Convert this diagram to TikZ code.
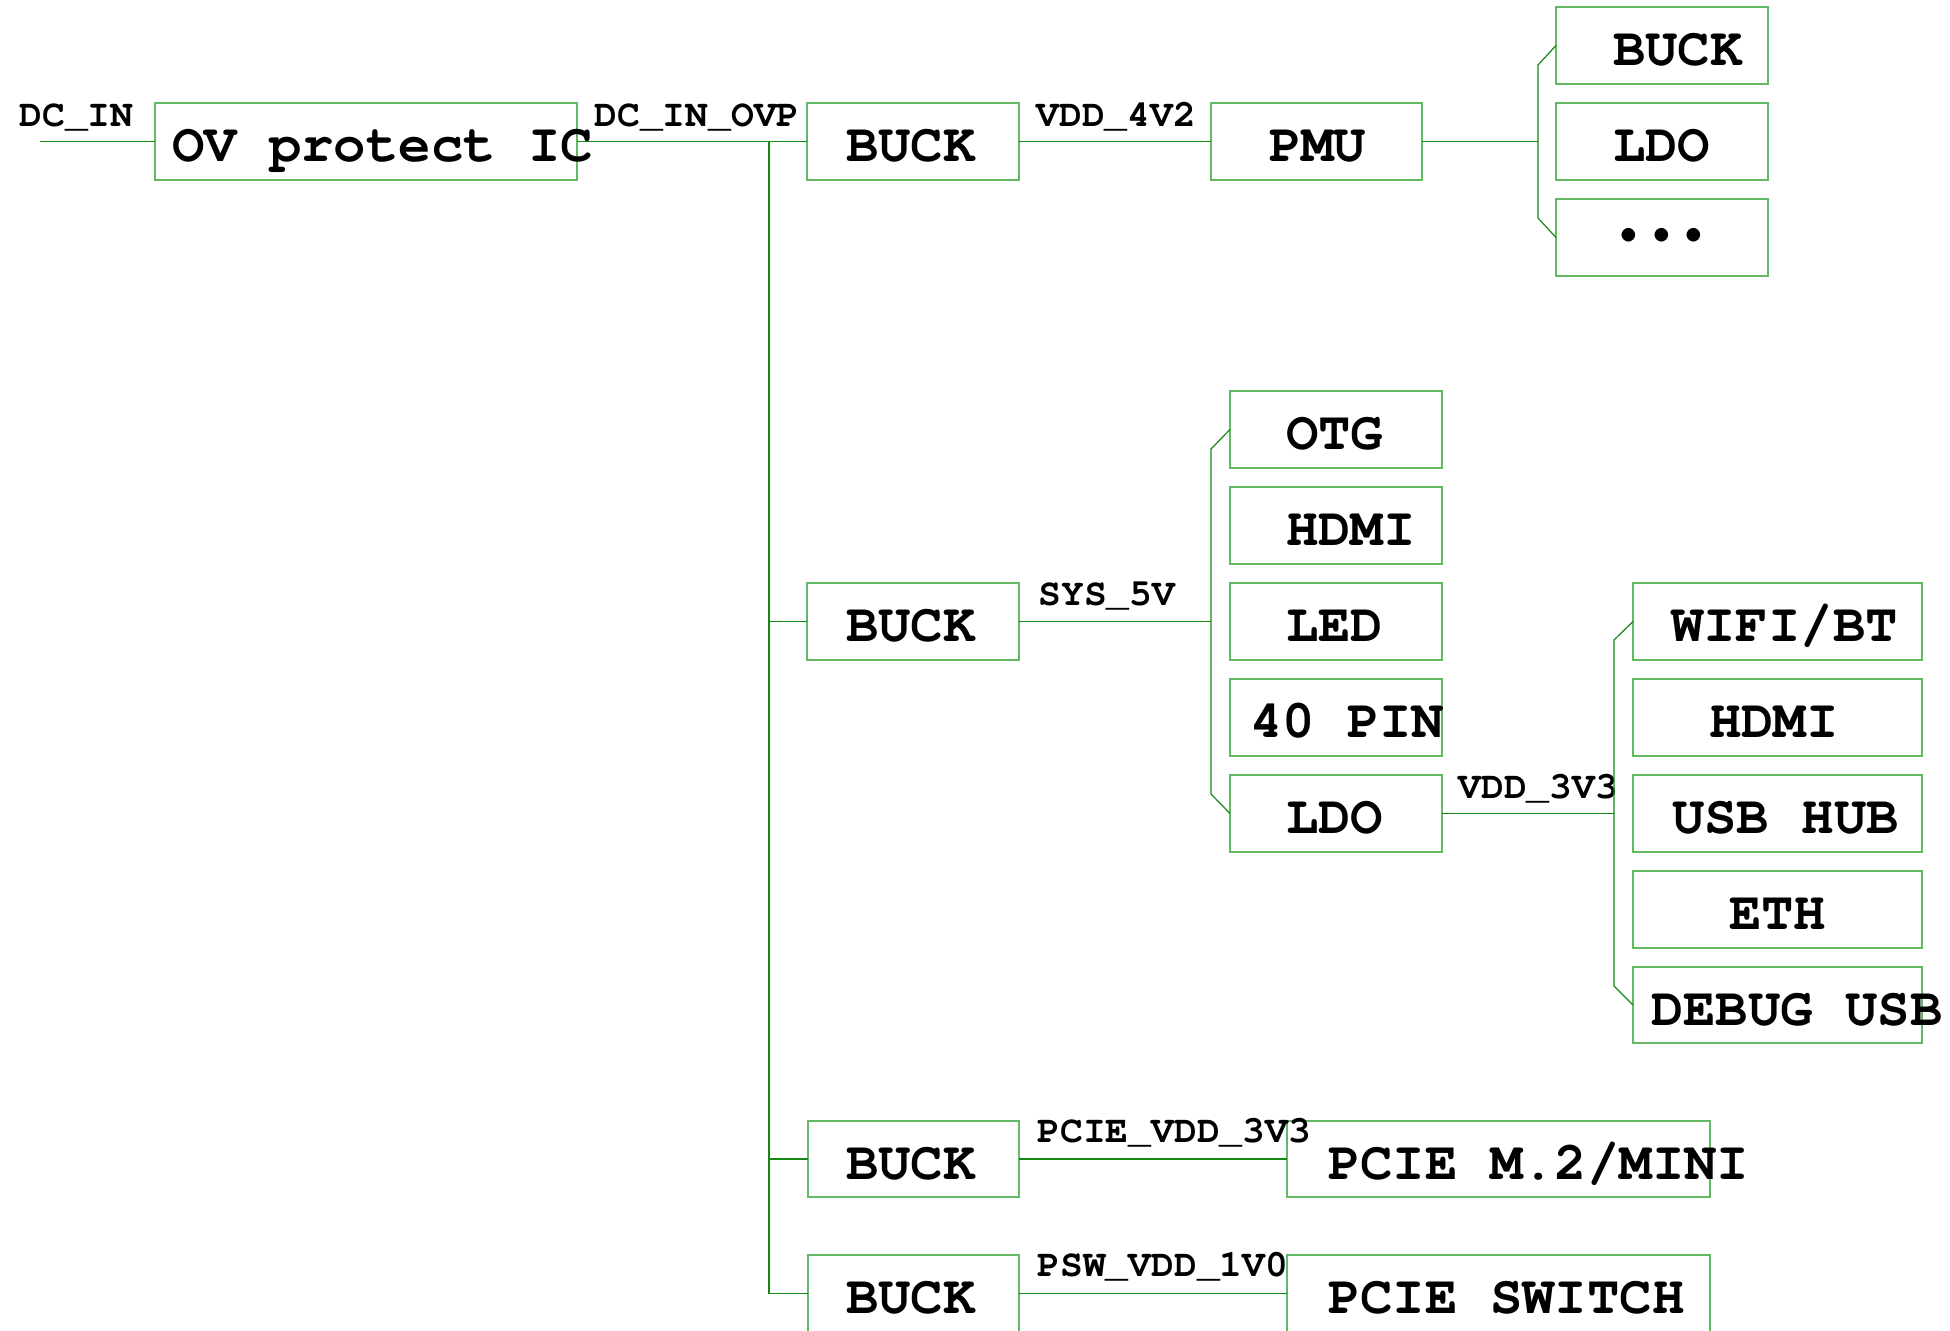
\documentclass[tikz,border=0pt]{standalone}
\usepackage{graphicx}
\usepackage{fontspec}
\setmainfont{texgyrecursor}[Extension=.otf, UprightFont=*-regular, BoldFont=*-bold]
\usetikzlibrary{fit}
\definecolor{boxg}{RGB}{100,185,100}
\definecolor{wireg}{RGB}{20,135,20}
\newcommand{\bt}[3][-10pt]{\raisebox{#1}[0pt][0pt]{\makebox[0pt][l]{\hspace*{#2}#3}}}
\newcommand{\dotch}{\makebox[0.6em]{\scalebox{0.7}{•}}}
\begin{document}
\begin{tikzpicture}[x=0.5pt,y=-0.5pt,
  box/.style={draw=boxg, line width=1pt, inner sep=0pt, outer sep=0pt,
    font=\bfseries\fontsize{27}{27}\selectfont},
  wire/.style={draw=wireg, line width=0.6pt},
  lbl/.style={font=\bfseries\fontsize{19}{19}\selectfont, anchor=base west, inner sep=0pt}]
\useasboundingbox (0,0) rectangle (1950,1330);
\clip (0,0) rectangle (1950,1330);

% boxes
\node[box, fit={(155,103) (577,180)}] (ov) {\bt{-97pt}{OV protect IC}};
\node[box, fit={(807,103) (1019,180)}] (buckA) {\bt{-33.5pt}{BUCK}};
\node[box, fit={(1211,103) (1422,180)}] (pmu) {\bt{-23.75pt}{PMU}};
\node[box, fit={(1556,7) (1768,84)}] (rbuck) {\bt{-24.5pt}{BUCK}};
\node[box, fit={(1556,103) (1768,180)}] (rldo) {\bt{-24.5pt}{LDO}};
\node[box, fit={(1556,199) (1768,276)}] (rdots) {\bt[-2.75pt]{-24.5pt}{\dotch\dotch\dotch}};
\node[box, fit={(807,583) (1019,660)}] (buckB) {\bt{-33.5pt}{BUCK}};
\node[box, fit={(1230,391) (1442,468)}] (otg) {\bt{-25pt}{OTG}};
\node[box, fit={(1230,487) (1442,564)}] (hdmiA) {\bt{-25pt}{HDMI}};
\node[box, fit={(1230,583) (1442,660)}] (led) {\bt{-25pt}{LED}};
\node[box, fit={(1230,679) (1442,756)}] (pin) {\bt{-43pt}{40 PIN}};
\node[box, fit={(1230,775) (1442,852)}] (ldoA) {\bt{-25pt}{LDO}};
\node[box, fit={(1633,583) (1922,660)}] (wifi) {\bt{-53.25pt}{WIFI/BT}};
\node[box, fit={(1633,679) (1922,756)}] (hdmiB) {\bt{-34.25pt}{HDMI}};
\node[box, fit={(1633,775) (1922,852)}] (usb) {\bt{-52.75pt}{USB HUB}};
\node[box, fit={(1633,871) (1922,948)}] (eth) {\bt{-24.25pt}{ETH}};
\node[box, fit={(1633,967) (1922,1043)}] (dbg) {\bt{-63.25pt}{DEBUG USB}};
\node[box, fit={(808,1121) (1019,1197)}] (buckC) {\bt{-33.75pt}{BUCK}};
\node[box, fit={(1287,1121) (1710,1197)}] (pcieA) {\bt{-85.25pt}{PCIE M.2/MINI}};
\node[box, fit={(808,1255) (1019,1332)}] (buckD) {\bt{-33.75pt}{BUCK}};
\node[box, fit={(1287,1255) (1710,1332)}] (pcieB) {\bt{-85.25pt}{PCIE SWITCH}};

% net labels
\node[lbl] (ldcin) at (19,126) {DC\_IN};
\node[lbl] (lovp) at (594,126) {DC\_IN\_OVP};
\node[lbl] (l4v2) at (1036,126) {VDD\_4V2};
\node[lbl] (l5v) at (1038,605) {SYS\_5V};
\node[lbl] (l3v3) at (1458,798) {VDD\_3V3};
\node[lbl] (lpcie) at (1037,1142) {PCIE\_VDD\_3V3};
\node[lbl] (lpsw) at (1037,1276) {PSW\_VDD\_1V0};

% junction coordinates
\coordinate (dcstart) at (40,141.5);
\coordinate (tj) at (769,141.5);
\coordinate (b1t) at (1538,65);
\coordinate (b1b) at (1538,218);
\coordinate (b2t) at (1211,449);
\coordinate (b2b) at (1211,794);
\coordinate (b3t) at (1614,640);
\coordinate (b3b) at (1614,986);

% wires
\draw[wire] (dcstart) -- (ov.west);
\draw[wire] (ov.east) -- (buckA.west);
\draw[wire] (tj) |- (buckD.west);
\draw[wire] (tj |- buckB.west) -- (buckB.west);
\draw[wire] (tj |- buckC.west) -- (buckC.west);
\draw[wire] (buckA.east) -- (pmu.west);
\draw[wire] (pmu.east) -- (b1t |- pmu.east);
\draw[wire] (rbuck.west) -- (b1t) -- (b1b) -- (rdots.west);
\draw[wire] (buckB.east) -- (b2t |- buckB.east);
\draw[wire] (otg.west) -- (b2t) -- (b2b) -- (ldoA.west);
\draw[wire] (ldoA.east) -- (b3t |- ldoA.east);
\draw[wire] (wifi.west) -- (b3t) -- (b3b) -- (dbg.west);
\draw[wire] (buckC.east) -- (pcieA.west);
\draw[wire] (buckD.east) -- (pcieB.west);
\end{tikzpicture}
\end{document}
